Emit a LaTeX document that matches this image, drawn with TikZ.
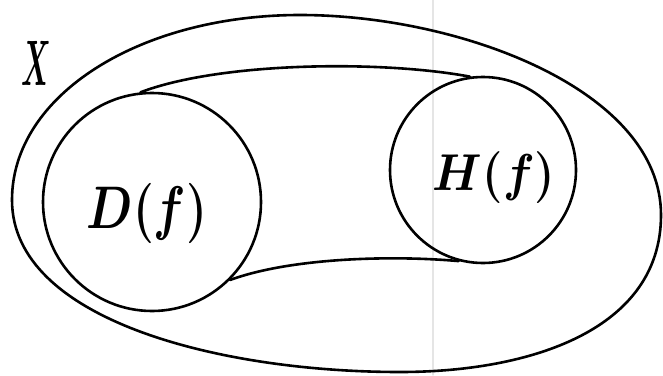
\documentclass[tikz,border=0pt]{standalone}
\begin{document}
\begin{tikzpicture}[x=1pt,y=-1pt,line join=round,line cap=round,
  stroke/.style={draw=black,line width=2.6pt},
  setcircle/.style={stroke,circle,inner sep=0pt},
  lab/.style={inner sep=0pt,anchor=base,font=\huge\boldmath},
  fold/.style={draw=black!10,line width=1.4pt}]
\useasboundingbox (0,0) rectangle (663,375);
\draw[fold] (433,0) -- (433,375);
% outer set X
\draw[stroke] (12,200) .. controls (12,95) and (140,15) .. (300,15)
  .. controls (460,15) and (661,90) .. (661,215)
  .. controls (661,330) and (530,372) .. (400,372)
  .. controls (220,372) and (12,320) .. cycle;
% circles
\node[setcircle,minimum size=218pt] (D) at (152,202) {};
\node[setcircle,minimum size=186pt] (H) at (483,170) {};
% band joining them
\draw[stroke] (D.96) .. controls (220,62) and (380,60) .. (H.98);
\draw[stroke] (D.-45) .. controls (290,258) and (390,255) .. (H.-105);
% labels
\node[lab,xscale=2.3,yscale=2.9] (Dl) at (147,228) {$D(f)$};
\node[lab,xscale=2.25,yscale=2.5] (Hl) at (494,190) {$H(f)$};
\node[lab,xscale=1.4,yscale=3.1] (Xl) at (36,85) {$X$};
\end{tikzpicture}
\end{document}
